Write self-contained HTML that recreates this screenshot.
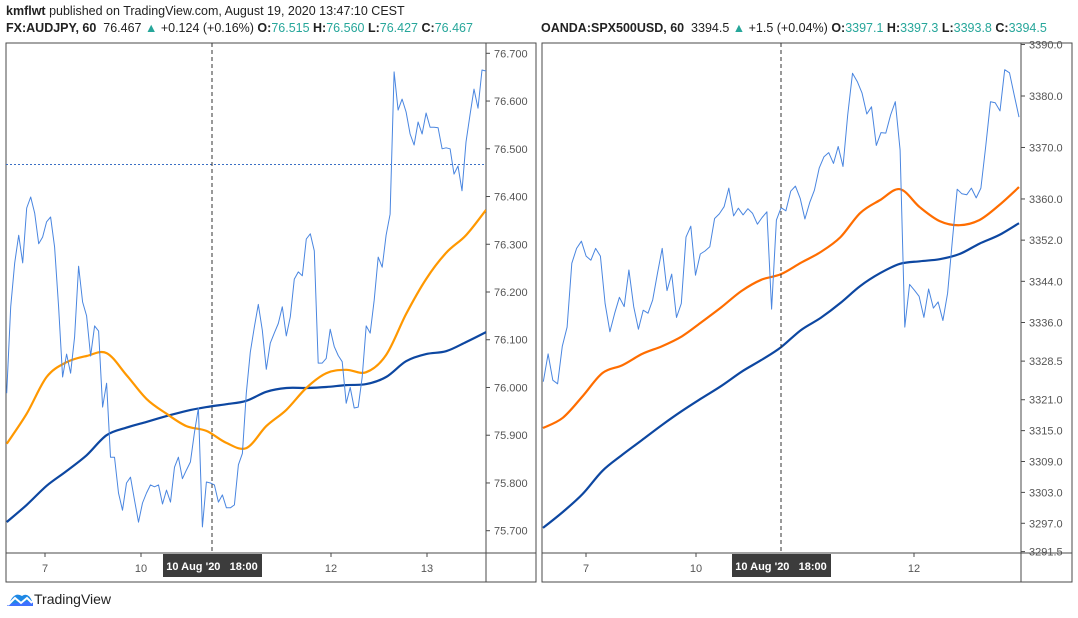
<!DOCTYPE html>
<html><head><meta charset="utf-8"><style>
html,body{margin:0;padding:0;background:#fff;}
body{width:1078px;height:618px;overflow:hidden;position:relative;font-family:"Liberation Sans",sans-serif;}
.hdr{position:absolute;font-size:12.5px;color:#222;white-space:nowrap;}
.t{color:#26a69a;}
b{font-weight:bold;}
svg{position:absolute;left:0;top:0;}
</style></head><body>
<div class="hdr" style="left:6px;top:4px;"><b>kmflwt</b> published on TradingView.com, August 19, 2020 13:47:10 CEST</div>
<div class="hdr" style="left:6px;top:21px;"><b>FX:AUDJPY, 60</b>&nbsp; 76.467 <span class="t">▲</span> +0.124 (+0.16%) <b>O:</b><span class="t">76.515</span> <b>H:</b><span class="t">76.560</span> <b>L:</b><span class="t">76.427</span> <b>C:</b><span class="t">76.467</span></div>
<div class="hdr" style="left:541px;top:21px;"><b>OANDA:SPX500USD, 60</b>&nbsp; 3394.5 <span class="t">▲</span> +1.5 (+0.04%) <b>O:</b><span class="t">3397.1</span> <b>H:</b><span class="t">3397.3</span> <b>L:</b><span class="t">3393.8</span> <b>C:</b><span class="t">3394.5</span></div>
<svg id="svg" width="1078" height="618" xmlns="http://www.w3.org/2000/svg"></svg>
<div style="position:absolute;left:6px;top:591px;">
<svg width="28" height="16" viewBox="0 0 28 16" style="position:static"><path d="M1 15 L9 5 L15 11 L20 6 L27 12 L27 15 Z" fill="#2962ff" opacity="0.9"/><path d="M3 13 Q8 0 16 5 Q22 1 26 10" fill="#1e88e5"/><path d="M2 14 L9 7 L15 12 L21 7 L26 12" stroke="#fff" stroke-width="2" fill="none"/></svg>
</div>
<div class="hdr" style="left:34px;top:591px;font-size:14px;color:#222;">TradingView</div>
<script>
// ---- AUDJPY data ----
const audPrice=[75.988,76.169,76.261,76.319,76.261,76.376,76.399,76.365,76.301,76.315,76.347,76.357,76.294,76.169,76.022,76.070,76.030,76.106,76.254,76.179,76.150,76.066,76.129,76.118,75.959,76.009,75.854,75.854,75.779,75.743,75.800,75.812,75.764,75.718,75.758,75.779,75.796,75.792,75.796,75.756,75.785,75.760,75.833,75.854,75.809,75.827,75.844,75.905,75.957,75.708,75.802,75.800,75.796,75.760,75.775,75.748,75.748,75.754,75.838,75.862,75.988,76.074,76.126,76.174,76.120,76.038,76.093,76.114,76.134,76.169,76.108,76.148,76.227,76.242,76.234,76.311,76.322,76.286,76.051,76.051,76.061,76.122,76.086,76.067,76.054,75.967,76.000,75.957,75.959,76.022,76.129,76.114,76.183,76.273,76.252,76.319,76.363,76.661,76.581,76.604,76.577,76.531,76.508,76.556,76.531,76.575,76.545,76.545,76.544,76.500,76.502,76.500,76.447,76.464,76.412,76.514,76.571,76.625,76.585,76.665,76.663];
const audEmaFast=[75.882,75.945,76.022,76.053,76.066,76.072,76.026,75.976,75.945,75.919,75.909,75.884,75.873,75.919,75.953,75.999,76.030,76.037,76.032,76.068,76.154,76.227,76.282,76.319,76.372];
const audEmaSlow=[75.718,75.754,75.794,75.825,75.858,75.900,75.916,75.928,75.940,75.951,75.959,75.965,75.972,75.991,75.999,75.999,76.001,76.005,76.007,76.022,76.055,76.070,76.076,76.095,76.116];
const audTicks=[76.7,76.6,76.5,76.4,76.3,76.2,76.1,76.0,75.9,75.8,75.7];
const audLast=76.467;
const audXLabels=["7","10","12","13"];
// ---- SPX data ----
const spxPrice=[3324.5,3329.9,3324.8,3324.1,3331.4,3335.1,3347.5,3350.4,3351.8,3348.9,3348.1,3350.4,3348.9,3339.7,3334.2,3337.8,3340.9,3339.1,3346.2,3339.1,3334.7,3338.4,3337.8,3340.4,3345.6,3350.4,3342.2,3345.4,3337.0,3339.7,3352.6,3354.7,3345.2,3349.3,3349.9,3350.7,3356.2,3357.1,3358.5,3362.1,3356.7,3358.2,3356.9,3358.1,3357.2,3355.1,3356.4,3357.5,3338.6,3355.9,3358.3,3357.7,3361.5,3362.5,3360.1,3356.1,3359.3,3361.7,3366.0,3368.2,3369.0,3366.9,3370.2,3366.3,3376.3,3384.4,3382.8,3380.6,3376.5,3377.9,3370.4,3372.9,3372.8,3376.3,3378.9,3369.5,3335.1,3343.4,3342.3,3341.1,3337.0,3342.5,3338.8,3340.0,3336.4,3341.7,3352.0,3361.9,3361.0,3360.8,3362.1,3360.2,3362.1,3370.2,3378.9,3378.7,3377.1,3385.1,3384.5,3380.2,3375.9];
const spxEmaFast=[3315.5,3317.5,3321.7,3326.2,3327.7,3329.9,3331.4,3333.3,3336.1,3339.0,3342.1,3344.3,3345.4,3347.6,3349.7,3352.6,3357.3,3359.8,3361.9,3358.4,3355.7,3354.9,3355.9,3358.8,3362.3];
const spxEmaSlow=[3296.1,3299.2,3302.7,3307.2,3310.3,3313.2,3316.1,3318.8,3321.3,3323.7,3326.4,3328.7,3331.2,3334.5,3336.9,3339.8,3343.1,3345.6,3347.4,3347.9,3348.3,3349.3,3351.3,3353.0,3355.3];
const spxTicks=[3390.0,3380.0,3370.0,3360.0,3352.0,3344.0,3336.0,3328.5,3321.0,3315.0,3309.0,3303.0,3297.0,3291.5];
const spxXLabels=["7","10","12"];
const cursorLabel=["10 Aug '20","18:00"];

const NS="http://www.w3.org/2000/svg";
const svg=document.getElementById('svg');
function mk(tag,attrs,parent){const e=document.createElementNS(NS,tag);for(const k in attrs)e.setAttribute(k,attrs[k]);(parent||svg).appendChild(e);return e;}

function panel(cfg){
  const g=mk('g',{});
  
  
  const {L,R,A,RB,T,B,XB}=cfg;
  const y=v=>cfg.y0+(cfg.vTop-v)*cfg.k;
  const xi=(i,n,x0,x1)=>x0+i*(x1-x0)/(n-1);
  const fr=mk('rect',{x:L,y:T,width:RB-L,height:XB-T,fill:'none',stroke:'#4a4a4a','stroke-width':1},g);
  
  
  mk('line',{x1:A,y1:T,x2:A,y2:XB,stroke:'#4a4a4a'},g);
  mk('line',{x1:L,y1:B,x2:RB,y2:B,stroke:'#4a4a4a'},g);
  cfg.ticks.forEach(v=>{
    const yy=y(v);
    if(yy<T-8||yy>B+2)return;
    mk('line',{x1:A,y1:yy,x2:A+4,y2:yy,stroke:'#4a4a4a'},g);
    const t=mk('text',{x:A+8,y:yy+4,'font-size':11,fill:'#555','font-family':'Liberation Sans, sans-serif'},g);
    t.textContent=v.toFixed(cfg.dec);
    
    
  });
  const clip='clip'+cfg.name;
  const cp=mk('clipPath',{id:clip},g);mk('rect',{x:L,y:T,width:A-L,height:B-T},cp);
  const pg=mk('g',{'clip-path':'url(#'+clip+')'},g);
  if(cfg.last!==undefined){
    const ln=mk('line',{x1:L,y1:y(cfg.last),x2:A,y2:y(cfg.last),stroke:'#3a6fc4','stroke-dasharray':'2,2','stroke-width':1},pg);
    
    
  }
  function line(arr,x0,x1,color,w,name,smooth){
    const P=arr.map((v,i)=>[xi(i,arr.length,x0,x1),y(v)]);
    let d='M'+P[0][0].toFixed(1)+' '+P[0][1].toFixed(1);
    for(let i=1;i<P.length;i++){
      if(!smooth){d+=' L'+P[i][0].toFixed(1)+' '+P[i][1].toFixed(1);continue;}
      const p0=P[Math.max(0,i-2)],p1=P[i-1],p2=P[i],p3=P[Math.min(P.length-1,i+1)];
      const c1=[p1[0]+(p2[0]-p0[0])/6,p1[1]+(p2[1]-p0[1])/6];
      const c2=[p2[0]-(p3[0]-p1[0])/6,p2[1]-(p3[1]-p1[1])/6];
      d+=' C'+c1.map(n=>n.toFixed(1)).join(' ')+' '+c2.map(n=>n.toFixed(1)).join(' ')+' '+p2[0].toFixed(1)+' '+p2[1].toFixed(1);
    }
    const p=mk('path',{d:d,fill:'none',stroke:color,'stroke-width':w,'stroke-linejoin':'round'},pg);
    
    
  }
  line(cfg.slow,cfg.ex0,cfg.ex1,'#0d47a1',2.2,'ema-slow-line',true);
  line(cfg.fast,cfg.ex0,cfg.ex1,cfg.fastColor,2.2,'ema-fast-line',true);
  line(cfg.price,cfg.px0,cfg.px1,'#4a86e0',1,'price-line',false);
  const ch=mk('line',{x1:cfg.cx,y1:T,x2:cfg.cx,y2:B,stroke:'#333','stroke-dasharray':'4,3'},g);
  
  
  cfg.xl.forEach((s,i)=>{
    const xx=cfg.xpos[i];
    mk('line',{x1:xx,y1:B,x2:xx,y2:B+4,stroke:'#4a4a4a'},g);
    const t=mk('text',{x:xx,y:B+19,'font-size':11,fill:'#555','text-anchor':'middle'},g);
    t.textContent=s;
    
    
  });
  const bx=mk('rect',{x:cfg.cx-49,y:B+1,width:99,height:23,fill:'#3c3c3c'},g);
  
  
  const bt=mk('text',{x:cfg.cx,y:B+17,'font-size':11,fill:'#fff','text-anchor':'middle','font-weight':'bold'},g);
  bt.textContent=cursorLabel[0]+'\u00a0\u00a0\u00a0'+cursorLabel[1];
  
  
}
panel({name:'audjpy-chart',L:6,A:486,RB:536,T:43,B:553,XB:582,y0:53.3,vTop:76.7,k:477.4,ticks:audTicks,dec:3,last:audLast,
  price:audPrice,px0:6.7,px1:486,fast:audEmaFast,slow:audEmaSlow,ex0:6.7,ex1:486,fastColor:'#ff9800',cx:212,
  xl:audXLabels,xpos:[45,141,331,427]});
panel({name:'spx-chart',L:542,A:1021,RB:1072,T:43,B:553,XB:582,y0:96,vTop:3380,k:5.148,ticks:spxTicks,dec:1,
  price:spxPrice,px0:543.3,px1:1019,fast:spxEmaFast,slow:spxEmaSlow,ex0:543,ex1:1019,fastColor:'#ff6d00',cx:781,
  xl:spxXLabels,xpos:[586,696,914]});
</script>
</body></html>
